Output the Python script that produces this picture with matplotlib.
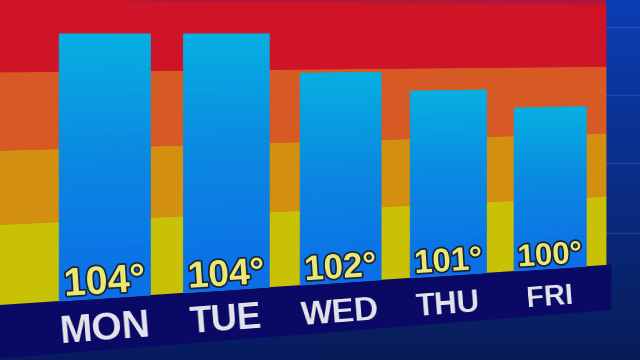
import numpy as np
import matplotlib
matplotlib.use('Agg')
import matplotlib.pyplot as plt
import matplotlib.patheffects as pe
from matplotlib import font_manager
from matplotlib.patches import Rectangle
from matplotlib.transforms import Transform
from matplotlib.colors import LinearSegmentedColormap, to_rgb

days = ['MON', 'TUE', 'WED', 'THU', 'FRI']
highs = [104, 104, 102, 101, 100]
band_edges = [91.2, 95.0, 98.5, 102.2, 105.6]
band_colors = ['#c9c106', '#d38f10', '#d75a25', '#cf1428']

W, H = 640, 360
# where the board corners land in the camera picture (pixels, y from top)
BOARD_W = 606
LEFT_BOT, LEFT_TOP = 305, 0
RIGHT_BOT, RIGHT_TOP = 265, 5

installed = {f.name for f in font_manager.fontManager.ttflist}
narrow_ok = 'Liberation Sans Narrow' in installed
digit_font = ['Liberation Sans', 'DejaVu Sans'] if 'Liberation Sans' in installed else ['DejaVu Sans']
day_font = ['Liberation Sans Narrow', 'DejaVu Sans'] if narrow_ok else digit_font


class Tilt(Transform):
    """Maps the flat board (display pixels) onto the slanted board."""
    input_dims = 2
    output_dims = 2
    is_separable = False
    has_inverse = False

    def __init__(self):
        super().__init__()
        self.e = LEFT_TOP - LEFT_BOT
        self.g = self.e / (RIGHT_TOP - RIGHT_BOT) - 1
        self.d = RIGHT_BOT * (self.g + 1) - LEFT_BOT

    def transform_non_affine(self, values):
        values = np.asarray(values, dtype=float)
        flat = values.ndim == 1
        xy = values.reshape(-1, 2)
        u = xy[:, 0] / BOARD_W
        v = (xy[:, 1] - (H - LEFT_BOT)) / (LEFT_BOT - LEFT_TOP)
        w = self.g * u + 1
        x = BOARD_W * (self.g + 1) * u / w
        y = (self.d * u + self.e * v + LEFT_BOT) / w
        out = np.column_stack([x, H - y])
        return out.reshape(-1) if flat else out


fig = plt.figure(figsize=(W / 100, H / 100), dpi=100)

# studio background
bg = fig.add_axes([0, 0, 1, 1])
bg.axis('off')
top, mid, bot = to_rgb('#0d3fae'), to_rgb('#0a2d86'), to_rgb('#081c58')
t = np.linspace(0, 1, 200)[:, None]
grad = np.where(t < 0.5, (1 - 2 * t)[..., None] * np.array(top) + (2 * t)[..., None] * np.array(mid),
                (2 - 2 * t)[..., None] * np.array(mid) + (2 * t - 1)[..., None] * np.array(bot))
grad = np.repeat(grad, 2, axis=1)
bg.imshow(grad, extent=[0, 1, 0, 1], aspect='auto')
for gy in [27, 95, 163, 233]:
    bg.axhline(1 - gy / H, xmin=0.94, xmax=1, color='#3a78e8', lw=1, alpha=0.35)
bg.set_xlim(0, 1)
bg.set_ylim(0, 1)

ax = fig.add_axes([0, (H - LEFT_BOT) / H, BOARD_W / W, (LEFT_BOT - LEFT_TOP) / H])
ax.axis('off')
ax.set_xlim(-0.82, 4.57)
ax.set_ylim(band_edges[0], band_edges[-1])
tilt = Tilt()
data_tr = ax.transData + tilt
yband_tr = ax.get_yaxis_transform() + tilt
xlab_tr = ax.get_xaxis_transform() + tilt
axes_tr = ax.transAxes + tilt

# coloured heat bands behind the bars
ax.add_patch(Rectangle((0, band_edges[-1]), 1, 1.5, transform=yband_tr,
                       color='#b0163a', lw=0, clip_on=False))
for lo, hi, c in zip(band_edges[:-1], band_edges[1:], band_colors):
    ax.add_patch(Rectangle((0, lo), 1, hi - lo, transform=yband_tr,
                           facecolor=c, edgecolor=c, lw=0.6, clip_on=False))

# navy label strip under the board
ax.add_patch(Rectangle((0, -0.175), 1.01, 0.175, transform=axes_tr,
                       color='#0a0a66', lw=0, clip_on=False))

# bars, shaded top to bottom
bar_cmap = LinearSegmentedColormap.from_list('bar', ['#0a6ee8', '#0a86e2', '#05afe2'])
x = np.arange(len(days))
base = ax.get_ylim()[0]
seg = (np.array(highs) - base) / 40
for k in range(40):
    c = bar_cmap(k / 39)
    ax.bar(x, seg, width=0.73, bottom=base + seg * k, color=c, edgecolor=c,
           lw=0.5, transform=data_tr, clip_on=False)


def local_look(xi, yf):
    p0 = xlab_tr.transform((xi - 0.3, yf))
    p1 = xlab_tr.transform((xi + 0.3, yf))
    q1 = xlab_tr.transform((xi, yf + 0.1))
    q0 = xlab_tr.transform((xi, yf))
    angle = np.degrees(np.arctan2(p1[1] - p0[1], p1[0] - p0[0]))
    scale = (q1[1] - q0[1]) / (0.1 * (LEFT_BOT - LEFT_TOP))
    return angle, scale


day_size = 34 if narrow_ok else 30
for i, (d, h) in enumerate(zip(days, highs)):
    ang, s = local_look(i, 0.016)
    ax.text(i, 0.016, f'{h}°', transform=xlab_tr, ha='center', va='baseline',
            rotation=ang, rotation_mode='anchor', fontsize=30 * s ** 2,
            fontweight='bold', family=digit_font,
            color='#e8e874', clip_on=False,
            path_effects=[pe.withStroke(linewidth=2.5, foreground='#1d2238')])
    ang, s = local_look(i, -0.14)
    ax.text(i, -0.14, d, transform=xlab_tr, ha='center', va='baseline',
            rotation=ang, rotation_mode='anchor', fontsize=day_size * s ** 2.5,
            fontweight='bold', family=day_font,
            color='#e6e6ec', clip_on=False)

fig.savefig('out.png', dpi=100)
